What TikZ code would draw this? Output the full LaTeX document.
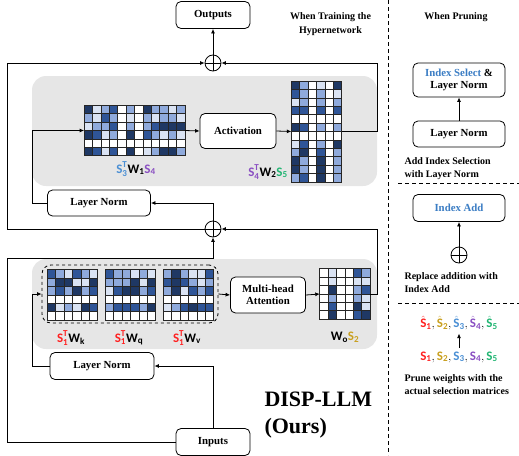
\documentclass[tikz,border=0pt]{standalone}
\usepackage{fontspec}
\usepackage{amsmath}
\setmainfont{Liberation Serif}
\newfontfamily\lblfont{Carlito}
\usetikzlibrary{
  arrows.meta,
  positioning,
  calc
}

% cell shades of the weight grids
\definecolor{h0}{HTML}{FFFFFF}
\definecolor{h1}{HTML}{DAE3F3}
\definecolor{h2}{HTML}{8FAADC}
\definecolor{h3}{HTML}{2F5597}
\definecolor{h4}{HTML}{1F3864}
% selection matrices
\definecolor{sone}{HTML}{FF2020}
\definecolor{stwo}{HTML}{C9A020}
\definecolor{sthree}{HTML}{4A8FD4}
\definecolor{sfour}{HTML}{8A4FC2}
\definecolor{sfive}{HTML}{22B573}
\definecolor{idxblue}{HTML}{3B7DC4}
\definecolor{panelgray}{HTML}{E6E6E6}

\newcommand{\lbl}[1]{\text{\lblfont\bfseries #1}}
\newcommand{\heatgrid}[2]{%
  \foreach \row [count=\r] in {#2} {
    \foreach \v [count=\c] in \row {
      \draw[cell, fill=h\v] (#1.north west) ++({(\c-1)*8.4},{(\r-1)*8.4}) rectangle ++(8.4,8.4);
    }
  }%
}

\begin{document}
\begin{tikzpicture}[
  x=1pt, y=-1pt,
  font=\fontsize{10.8}{12.5}\selectfont\bfseries,
  block/.style={
    rectangle, rounded corners=5pt, draw=black, fill=white, line width=0.8pt,
    inner sep=2pt, align=center
  },
  panel/.style={
    rectangle, rounded corners=14pt, fill=panelgray, draw=none, inner sep=0pt
  },
  grid/.style={rectangle, draw=none, inner sep=0pt, outer sep=0pt},
  cell/.style={draw=black!85, line width=0.7pt},
  plus/.style={
    circle, draw=black, fill=white, line width=0.8pt, minimum size=16pt, inner sep=0pt,
    path picture={\draw[line width=0.8pt]
      (path picture bounding box.north) -- (path picture bounding box.south)
      (path picture bounding box.west) -- (path picture bounding box.east);}
  },
  mlabel/.style={font=\fontsize{13}{14}\selectfont},
  caption/.style={font=\fontsize{10}{13}\selectfont\bfseries, align=left, anchor=west},
  flow/.style={-{Latex[length=4.5pt,width=4pt]}, black, line width=0.8pt},
  divider/.style={dashed, black, line width=0.8pt, dash pattern=on 4pt off 3pt},
]
\useasboundingbox (0,0) rectangle (519,455);

% Rails
\coordinate (lft) at (7,0);
\coordinate (rgt) at (377,0);
\coordinate (inl) at (32,0);
\coordinate (byp) at (213,258);

% Gray panels
\node[panel, minimum width=345, minimum height=110] (ffn)  at (204.5,131) {};
\node[panel, minimum width=345, minimum height=90]  (attn) at (204.5,304) {};

% Top: output and first add
\node[block, minimum width=74, minimum height=27] (outp) at (213,15) {Outputs};
\node[plus] (add1) at (213,63) {};
\node[align=center, font=\fontsize{10}{14}\selectfont\bfseries] (train) at (330.5,24)
  {When Training the\\Hypernetwork};

% Feed-forward block
\node[grid, minimum width=100.8, minimum height=50.4] (mw1) at (134.5,130.5) {};
\heatgrid{mw1}{{4,1,2,3,0,2,0,4,2,2,1,2},{2,1,3,2,0,1,0,2,1,2,2,1},
  {1,2,2,3,0,2,0,2,3,4,4,4},{4,3,1,2,0,4,0,3,2,1,2,1},
  {0,0,0,0,0,0,0,0,0,0,0,0},{4,3,1,3,0,4,0,1,2,4,4,2}}
\node[block, minimum width=76, minimum height=35] (act) at (238,131) {Activation};
\node[grid, minimum width=50.4, minimum height=100.8] (mw2) at (316.5,131.5) {};
\heatgrid{mw2}{{4,2,0,1,0,4},{3,2,0,2,0,1},{1,2,0,2,0,2},{3,3,0,3,0,3},
  {0,0,0,0,0,0},{4,3,0,2,0,2},{0,0,0,0,0,0},{1,3,0,2,0,4},
  {2,4,0,3,0,2},{4,2,0,4,0,2},{4,2,0,4,0,2},{2,3,0,4,0,2}}
\node[mlabel] (l1) at (136,169)
  {$\textcolor{sthree}{\lbl{S}^{\lbl{T}}_{\lbl{3}}}\lbl{W}_{\lbl{1}}\textcolor{sfour}{\lbl{S}_{\lbl{4}}}$};
\node[mlabel] (l2) at (268,172)
  {$\textcolor{sfour}{\lbl{S}^{\lbl{T}}_{\lbl{4}}}\lbl{W}_{\lbl{2}}\textcolor{sfive}{\lbl{S}_{\lbl{5}}}$};
\node[block, minimum width=103, minimum height=26] (ln1) at (99,203) {Layer Norm};

% Second add
\node[plus] (add2) at (213,229) {};

% Attention block
\node[rectangle, rounded corners=9pt, draw=black, dashed, line width=0.8pt,
  minimum width=176, minimum height=58] (qkv) at (130,294) {};
\node[grid, minimum width=50.4, minimum height=50.4] (mwk) at (72.5,295) {};
\heatgrid{mwk}{{3,2,1,3,2,1},{2,4,4,1,1,4},{2,3,2,4,2,3},{0,0,0,0,0,0},{4,1,2,1,4,3},{0,0,0,0,0,0}}
\node[grid, minimum width=50.4, minimum height=50.4] (mwq) at (130.5,295) {};
\heatgrid{mwq}{{3,2,2,1,2,1},{2,2,2,4,1,4},{1,3,4,4,2,3},{0,0,0,0,0,0},{2,3,3,3,2,4},{0,0,0,0,0,0}}
\node[grid, minimum width=50.4, minimum height=50.4] (mwv) at (188.5,295) {};
\heatgrid{mwv}{{2,4,2,1,1,3},{3,4,3,2,1,2},{2,4,1,3,2,3},{0,0,0,0,0,0},{1,2,3,4,3,3},{0,0,0,0,0,0}}
\node[block, minimum width=75, minimum height=36] (mha) at (268,295) {Multi-head\\Attention};
\node[grid, minimum width=50.4, minimum height=50.4] (mwo) at (345,294) {};
\heatgrid{mwo}{{0,1,0,0,3,2},{0,1,0,0,1,1},{0,4,0,0,2,3},{0,2,0,0,2,1},{0,3,0,0,4,1},{0,4,0,0,3,4}}
\node[mlabel] (lk) at (71,338)
  {$\textcolor{sone}{\lbl{S}^{\lbl{T}}_{\lbl{1}}}\lbl{W}_{\lbl{k}}$};
\node[mlabel] (lq) at (129,338)
  {$\textcolor{sone}{\lbl{S}^{\lbl{T}}_{\lbl{1}}}\lbl{W}_{\lbl{q}}$};
\node[mlabel] (lv) at (187,338)
  {$\textcolor{sone}{\lbl{S}^{\lbl{T}}_{\lbl{1}}}\lbl{W}_{\lbl{v}}$};
\node[mlabel] (lo) at (345,337)
  {$\lbl{W}_{\lbl{o}}\textcolor{stwo}{\lbl{S}_{\lbl{2}}}$};
\node[block, minimum width=104, minimum height=27] (ln2) at (102,366) {Layer Norm};

% Bottom: inputs and title
\node[block, minimum width=74, minimum height=27] (inp) at (213,442) {Inputs};
\node[anchor=west, align=left, font=\fontsize{22}{27}\selectfont\bfseries] (title) at (261,415)
  {DISP-LLM\\(Ours)};

% Main flows
\draw[flow] (add1) -- (outp);
\draw[flow] (add2.west) -- (add2.west -| lft) |- (add1.west);
\draw[flow] (mw2.east) -- (mw2.east -| rgt) |- (add1.east);
\draw[flow] (mw1.east) -- (act.west);
\draw[flow] (act.east) -- (mw2.west);
\draw[flow] (add2.north) |- (ln1.east);
\draw[flow] (ln1.west) -- (ln1.west -| inl) |- (mw1.west);
\draw[flow] (inp.west) -- (inp.west -| lft) |- (byp) -- (add2.south);
\draw[flow] (inp.north) |- (ln2.east);
\draw[flow] (ln2.west) -- (ln2.west -| inl) |- (qkv.west);
\draw[flow] (qkv.east) -- (mha.west);
\draw[flow] (mha.east) -- (mwo.west);
\draw[flow] (mwo.east) -- (mwo.east -| rgt) |- (add2.east);

% Pruning side
\draw[divider] (388,0) -- (388,455);
\draw[divider] (398,183) -- (519,183);
\draw[divider] (398,303) -- (519,303);
\node[font=\fontsize{10}{12}\selectfont\bfseries] (prune) at (456,17) {When Pruning};
\node[block, minimum width=92, minimum height=34] (isel) at (459,80)
  {\textcolor{idxblue}{Index Select} \&\\Layer Norm};
\node[block, minimum width=92, minimum height=26] (pln) at (459,134) {Layer Norm};
\draw[flow] (pln) -- (isel);
\node[caption] (c1) at (401,169) {Add Index Selection\\with Layer Norm};
\node[block, minimum width=92, minimum height=27] (iadd) at (459,208)
  {\textcolor{idxblue}{Index Add}};
\node[plus] (padd) at (459,255) {};
\draw[flow] (padd) -- (iadd);
\node[caption] (c2) at (401,283) {Replace addition with\\Index Add};
\node[mlabel] (shat) at (459,323)
  {$\textcolor{sone}{\hat{\lbl{S}}_{\lbl{1}}},
    \textcolor{stwo}{\hat{\lbl{S}}_{\lbl{2}}},
    \textcolor{sthree}{\hat{\lbl{S}}_{\lbl{3}}},
    \textcolor{sfour}{\hat{\lbl{S}}_{\lbl{4}}},
    \textcolor{sfive}{\hat{\lbl{S}}_{\lbl{5}}}$};
\node[mlabel] (srow) at (459,357)
  {$\textcolor{sone}{\lbl{S}_{\lbl{1}}},
    \textcolor{stwo}{\lbl{S}_{\lbl{2}}},
    \textcolor{sthree}{\lbl{S}_{\lbl{3}}},
    \textcolor{sfour}{\lbl{S}_{\lbl{4}}},
    \textcolor{sfive}{\lbl{S}_{\lbl{5}}}$};
\draw[flow] (srow) -- (shat);
\node[caption] (c3) at (401,385) {Prune weights with the\\actual selection matrices};

\end{tikzpicture}
\end{document}
